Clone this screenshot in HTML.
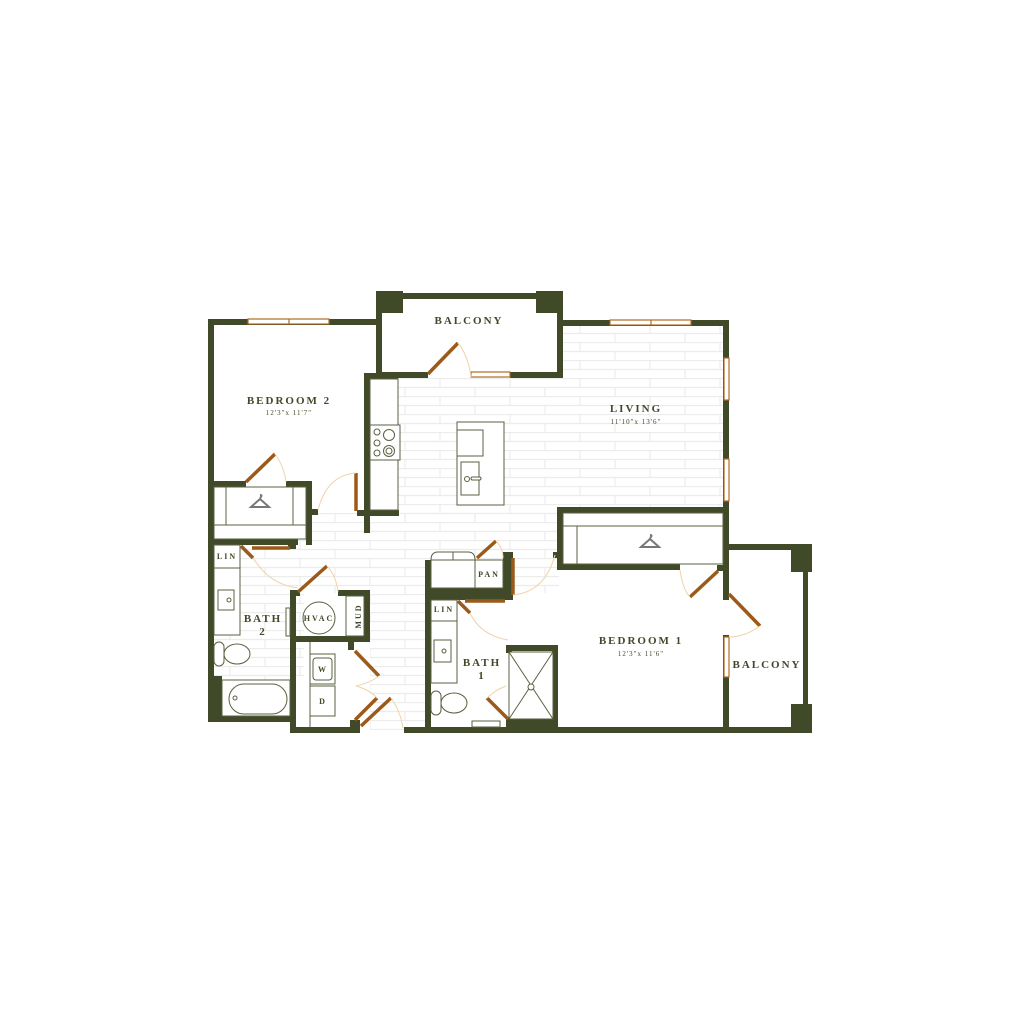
<!DOCTYPE html>
<html><head><meta charset="utf-8"><style>
html,body{margin:0;padding:0;background:#fff;}
svg{display:block;}
text{font-family:"Liberation Serif",serif;fill:#404a28;font-weight:bold;letter-spacing:2px;}
.s{font-size:7px;font-weight:normal;letter-spacing:1px;}
</style></head><body>
<svg width="1024" height="1024" viewBox="0 0 1024 1024" xmlns="http://www.w3.org/2000/svg">
<defs>
<pattern id="brick" x="0" y="0" width="140" height="18" patternUnits="userSpaceOnUse">
<rect width="140" height="18" fill="#fff"/>
<path d="M0 0.5H140M0 9.5H140M20 0V9M90 0V9M55 9V18M125 9V18" stroke="#ececec" stroke-width="1.2" fill="none"/>
</pattern>
</defs>
<!-- floors -->
<rect x="563" y="326" width="162" height="184" fill="url(#brick)"/>
<rect x="398" y="378" width="165" height="140" fill="url(#brick)"/>
<rect x="214" y="513" width="345" height="80" fill="url(#brick)"/>
<rect x="214" y="545" width="90" height="135" fill="url(#brick)"/>
<rect x="370" y="590" width="58" height="140" fill="url(#brick)"/>
<rect x="300" y="545" width="128" height="48" fill="url(#brick)"/>
<g fill="#404a28">
<rect x="208" y="319" width="6" height="403"/>
<rect x="208" y="319" width="170" height="6"/>
<rect x="208" y="481" width="38" height="6"/>
<rect x="286" y="481" width="26" height="6"/>
<rect x="306" y="481" width="6" height="64"/>
<rect x="312" y="509" width="6" height="6"/>
<rect x="208" y="539" width="90" height="6"/>
<rect x="288" y="539" width="8" height="10"/>
<rect x="376" y="293" width="187" height="6"/>
<rect x="376" y="291" width="27" height="22"/>
<rect x="536" y="291" width="27" height="22"/>
<rect x="376" y="293" width="6" height="85"/>
<rect x="557" y="293" width="6" height="85"/>
<rect x="376" y="372" width="52" height="6"/>
<rect x="510" y="372" width="53" height="6"/>
<rect x="364" y="373" width="6" height="160"/>
<rect x="364" y="373" width="34" height="6"/>
<rect x="357" y="510" width="42" height="6"/>
<rect x="563" y="320" width="166" height="6"/>
<rect x="723" y="320" width="6" height="280"/>
<rect x="723" y="635" width="6" height="98"/>
<rect x="557" y="507" width="172" height="6"/>
<rect x="557" y="507" width="6" height="63"/>
<rect x="557" y="564" width="123" height="6"/>
<rect x="553" y="552" width="4" height="6"/>
<rect x="717" y="565" width="6" height="6"/>
<rect x="729" y="544" width="83" height="6"/>
<rect x="791" y="544" width="21" height="28"/>
<rect x="791" y="704" width="21" height="29"/>
<rect x="803" y="544" width="5" height="189"/>
<rect x="404" y="727" width="408" height="6"/>
<rect x="290" y="727" width="70" height="6"/>
<rect x="208" y="716" width="82" height="6"/>
<rect x="208" y="676" width="14" height="46"/>
<rect x="290" y="590" width="6" height="143"/>
<rect x="290" y="590" width="10" height="6"/>
<rect x="338" y="590" width="32" height="6"/>
<rect x="364" y="590" width="6" height="52"/>
<rect x="290" y="636" width="80" height="6"/>
<rect x="348" y="636" width="6" height="14"/>
<rect x="350" y="720" width="10" height="13"/>
<rect x="425" y="560" width="6" height="173"/>
<rect x="425" y="588" width="84" height="12"/>
<rect x="503" y="552" width="10" height="48"/>
<rect x="506" y="645" width="52" height="6"/>
<rect x="552" y="645" width="6" height="88"/>
<rect x="506" y="645" width="6" height="8"/>
<rect x="506" y="718" width="52" height="15"/>
</g>
<g fill="#fff" stroke="#b06a24" stroke-width="1.2">
<rect x="248" y="319" width="81" height="5"/><line x1="289" y1="319" x2="289" y2="324"/>
<rect x="610" y="320" width="81" height="5"/><line x1="651" y1="320" x2="651" y2="325"/>
<rect x="471" y="372" width="39" height="5"/>
<rect x="724" y="358" width="5" height="42"/>
<rect x="724" y="459" width="5" height="42"/>
<rect x="724" y="637" width="5" height="40"/>
</g>
<g stroke="#9c5a1a" stroke-width="3.5" fill="none">
<line x1="428" y1="374" x2="458" y2="343"/>
<line x1="246" y1="482" x2="275" y2="454"/>
<line x1="356" y1="473" x2="356" y2="511"/>
<line x1="252" y1="548" x2="290" y2="548"/>
<line x1="241" y1="546" x2="253" y2="558"/>
<line x1="298" y1="592" x2="327" y2="566"/>
<line x1="355" y1="651" x2="379" y2="676"/>
<line x1="355" y1="720" x2="377" y2="698"/>
<line x1="361" y1="726" x2="391" y2="698"/>
<line x1="477" y1="558" x2="496" y2="541"/>
<line x1="513" y1="558" x2="513" y2="595"/>
<line x1="465" y1="601" x2="505" y2="601"/>
<line x1="458" y1="601" x2="470" y2="613"/>
<line x1="487" y1="698" x2="508" y2="719"/>
<line x1="690" y1="597" x2="718" y2="571"/>
<line x1="729" y1="594" x2="760" y2="626"/>
</g>
<g stroke="#f0d3a8" stroke-width="1" fill="none">
<path d="M458 343 Q468 355 471 377"/>
<path d="M275 454 Q284 466 286 482"/>
<path d="M356 473 Q327 475 318 510"/>
<path d="M253 558 Q270 585 298 588"/>
<path d="M327 566 Q336 575 338 592"/>
<path d="M379 676 Q370 683 356 686 Q370 690 377 698"/>
<path d="M391 698 Q400 710 403 728"/>
<path d="M496 541 Q503 548 503 558"/>
<path d="M513 595 Q545 592 555 555"/>
<path d="M470 613 Q480 635 508 640"/>
<path d="M487 698 Q495 690 506 686"/>
<path d="M690 597 Q683 590 680 570"/>
<path d="M760 626 Q745 637 729 637"/>
</g>
<g stroke="#5a6040" stroke-width="1" fill="#fff">
<rect x="370" y="379" width="28" height="131"/>
<rect x="370" y="425" width="30" height="35"/>
<circle cx="377" cy="432" r="3"/><circle cx="377" cy="443" r="3"/><circle cx="377" cy="453" r="3"/>
<circle cx="389" cy="435" r="5.5"/><circle cx="389" cy="451" r="5.5"/><circle cx="389" cy="451" r="3"/>
<rect x="457" y="422" width="47" height="83"/>
<rect x="457" y="430" width="26" height="26"/>
<rect x="461" y="462" width="18" height="33"/>
<circle cx="467" cy="479" r="2.5"/><rect x="471" y="477" width="10" height="3" rx="1.5"/>
<rect x="214" y="487" width="92" height="52"/>
<line x1="226" y1="487" x2="226" y2="525"/><line x1="293" y1="487" x2="293" y2="525"/><line x1="214" y1="525" x2="306" y2="525"/>
<rect x="214" y="545" width="26" height="23"/>
<rect x="214" y="568" width="26" height="67"/>
<rect x="218" y="590" width="16" height="20"/><circle cx="229" cy="600" r="2"/>
<rect x="286" y="608" width="4" height="28"/>
<rect x="214" y="642" width="10" height="24" rx="5"/><ellipse cx="237" cy="654" rx="13" ry="10"/>
<rect x="222" y="680" width="68" height="36"/>
<rect x="229" y="684" width="58" height="30" rx="15"/><circle cx="235" cy="698" r="2"/>
<circle cx="319" cy="618" r="16"/>
<rect x="346" y="596" width="18" height="40"/>
<rect x="310" y="654" width="25" height="30"/><rect x="313" y="658" width="19" height="22" rx="3"/>
<rect x="310" y="686" width="25" height="30"/>
<line x1="310" y1="642" x2="310" y2="727"/>
<path d="M431 560 Q431 552 438 552 L468 552 Q475 552 475 560 Z"/>
<line x1="453" y1="552" x2="453" y2="560"/>
<rect x="431" y="560" width="44" height="28"/>
<rect x="475" y="560" width="28" height="28"/>
<rect x="431" y="600" width="26" height="21"/>
<rect x="431" y="621" width="26" height="62"/>
<rect x="434" y="640" width="17" height="22"/><circle cx="444" cy="651" r="2"/>
<rect x="431" y="691" width="10" height="24" rx="5"/><ellipse cx="454" cy="703" rx="13" ry="10"/>
<rect x="472" y="721" width="28" height="6"/>
<rect x="509" y="652" width="44" height="67"/>
<line x1="509" y1="652" x2="553" y2="719"/><line x1="553" y1="652" x2="509" y2="719"/>
<circle cx="531" cy="687" r="3"/>
<rect x="563" y="513" width="160" height="51"/>
<line x1="563" y1="526" x2="723" y2="526"/><line x1="577" y1="526" x2="577" y2="564"/>
</g>
<g stroke="#777" stroke-width="2" fill="none">
<path d="M260 498 q3 -3 0 -3 M260 499 l-9 8 h18 z"/>
<path d="M650 538 q3 -3 0 -3 M650 539 l-9 8 h18 z"/>
</g>
<text x="289" y="404" text-anchor="middle" font-size="11">BEDROOM 2</text>
<text x="289" y="415" text-anchor="middle" class="s">12'3"x 11'7"</text>
<text x="469" y="324" text-anchor="middle" font-size="11">BALCONY</text>
<text x="636" y="412" text-anchor="middle" font-size="11">LIVING</text>
<text x="636" y="424" text-anchor="middle" class="s">11'10"x 13'6"</text>
<text x="641" y="644" text-anchor="middle" font-size="11">BEDROOM 1</text>
<text x="641" y="656" text-anchor="middle" class="s">12'3"x 11'6"</text>
<text x="767" y="668" text-anchor="middle" font-size="11">BALCONY</text>
<text x="263" y="622" text-anchor="middle" font-size="11">BATH</text>
<text x="263" y="635" text-anchor="middle" font-size="11">2</text>
<text x="482" y="666" text-anchor="middle" font-size="11">BATH</text>
<text x="482" y="679" text-anchor="middle" font-size="11">1</text>
<text x="227" y="559" text-anchor="middle" font-size="8" letter-spacing="1">LIN</text>
<text x="444" y="612" text-anchor="middle" font-size="8" letter-spacing="1">LIN</text>
<text x="489" y="577" text-anchor="middle" font-size="8" letter-spacing="1">PAN</text>
<text x="319" y="621" text-anchor="middle" font-size="8" letter-spacing="1">HVAC</text>
<text x="358" y="616" text-anchor="middle" font-size="8" letter-spacing="1" transform="rotate(-90 358 616)" dy="3">MUD</text>
<text x="323" y="672" text-anchor="middle" font-size="8" letter-spacing="0">W</text>
<text x="323" y="704" text-anchor="middle" font-size="8" letter-spacing="0">D</text>
</svg>
</body></html>
